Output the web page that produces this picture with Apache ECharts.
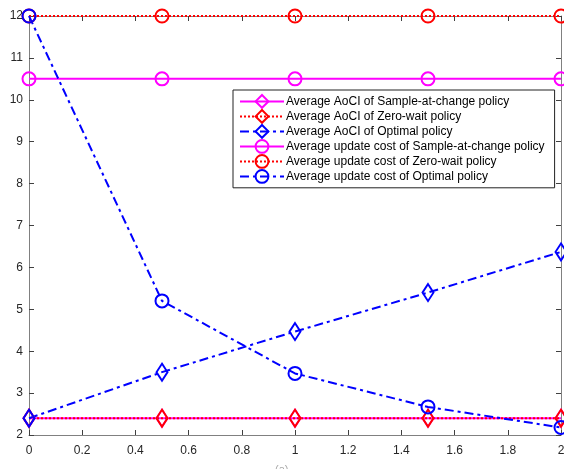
<!DOCTYPE html>
<html><head><meta charset="utf-8">
<script src="https://cdn.jsdelivr.net/npm/echarts@6/dist/echarts.min.js"></script>
<style>html,body{margin:0;padding:0;background:#fff}#c{width:564px;height:469px}</style>
</head><body><div id="c"></div>
<script>
const xValues = [0, 0.5, 1, 1.5, 2];
const aociSample = [2.4, 2.4, 2.4, 2.4, 2.4];
const aociZero = [2.4, 2.4, 2.4, 2.4, 2.4];
const aociOptimal = [2.4, 3.5, 4.47, 5.4, 6.37];
const costSample = [10.5, 10.5, 10.5, 10.5, 10.5];
const costZero = [12, 12, 12, 12, 12];
const costOptimal = [12, 5.2, 3.47, 2.67, 2.18];
const seriesNames = [
  'Average AoCI of Sample-at-change policy',
  'Average AoCI of Zero-wait policy',
  'Average AoCI of Optimal policy',
  'Average update cost of Sample-at-change policy',
  'Average update cost of Zero-wait policy',
  'Average update cost of Optimal policy'
];
const pts = a => a.map((v, i) => [xValues[i], v]);
const MAG = '#ff00ff', RED = '#ff0000', BLUE = '#0000ff';
const dashDot = [9, 4, 3, 4];
const dotted = [2, 2];
function mk(name, data, color, type, sym) {
  return {
    name, type: 'line', data: pts(data), xAxisIndex: 0, yAxisIndex: 0,
    symbol: sym === 'd' ? 'diamond' : 'circle',
    symbolSize: sym === 'd' ? [11, 17] : 13,
    showAllSymbol: true,
    lineStyle: { color, width: 2, type },
    itemStyle: { color: 'rgba(0,0,0,0)', borderColor: color, borderWidth: 2 },
    emphasis: { disabled: true },
    animation: false, clip: false
  };
}
const axisCommon = {
  axisLine: { show: true, onZero: false, lineStyle: { color: '#808080', width: 1 } },
  axisTick: { show: true, inside: true, length: 5, lineStyle: { color: '#404040' } },
  splitLine: { show: false }
};
const chart = echarts.init(document.getElementById('c'), null, { renderer: 'canvas' });
chart.setOption({
  animation: false,
  backgroundColor: '#fff',
  grid: { left: 29, right: 3, top: 16, bottom: 34, containLabel: false, outerBoundsMode: 'none' },
  title: { text: '(a)', left: 275, top: 464, padding: 0, textStyle: { fontSize: 11, fontWeight: 'normal', color: '#aaa', fontFamily: 'Liberation Sans' } },
  legend: {
    orient: 'vertical', left: 233, top: 90,
    itemWidth: 44, itemHeight: 16, itemGap: 0.2,
    padding: [4, 10, 4, 6],
    backgroundColor: '#fff', borderColor: '#222', borderWidth: 1,
    textStyle: { fontSize: 12, color: '#000', fontFamily: 'Liberation Sans', padding: [0, 0, 0, -3] },
    data: seriesNames
  },
  xAxis: [
    Object.assign({}, axisCommon, { type: 'value', position: 'bottom', min: 0, max: 2, interval: 0.2,
      axisLabel: { color: '#262626', fontSize: 12, fontFamily: 'Liberation Sans', margin: 10,
        formatter: v => String(Math.round(v * 10) / 10) } }),
    Object.assign({}, axisCommon, { type: 'value', position: 'top', min: 0, max: 2, interval: 0.2,
      axisLabel: { show: false } })
  ],
  yAxis: [
    Object.assign({}, axisCommon, { type: 'value', position: 'left', min: 2, max: 12, interval: 1,
      axisLabel: { color: '#262626', fontSize: 12, fontFamily: 'Liberation Sans', margin: 6 } }),
    Object.assign({}, axisCommon, { type: 'value', position: 'right', min: 2, max: 12, interval: 1,
      axisLabel: { show: false } })
  ],
  series: [
    mk(seriesNames[0], aociSample, MAG, 'solid', 'd'),
    mk(seriesNames[1], aociZero, RED, dotted, 'd'),
    mk(seriesNames[2], aociOptimal, BLUE, dashDot, 'd'),
    mk(seriesNames[3], costSample, MAG, 'solid', 'c'),
    mk(seriesNames[4], costZero, RED, dotted, 'c'),
    mk(seriesNames[5], costOptimal, BLUE, dashDot, 'c')
  ]
});
</script></body></html>
